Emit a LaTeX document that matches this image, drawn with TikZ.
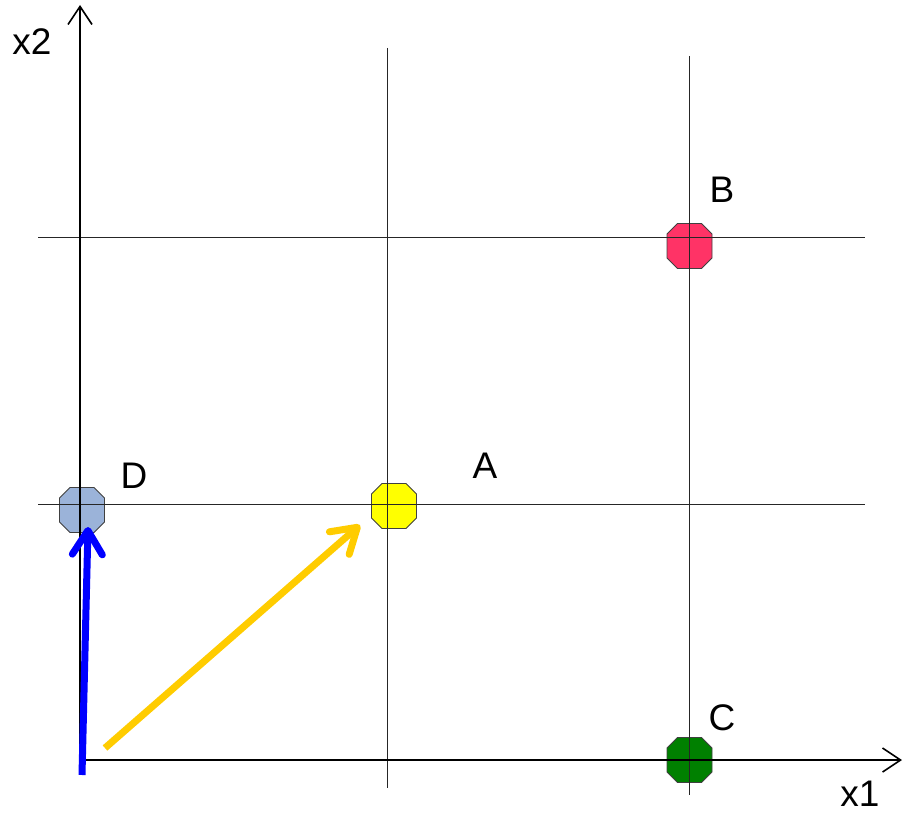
\documentclass[tikz,border=0pt]{standalone}
\usepackage{fontspec}
\setmainfont{Liberation Sans}
\usetikzlibrary{arrows.meta}
\definecolor{dblue}{HTML}{9BB3D9}
\definecolor{bred}{HTML}{FF3366}
\definecolor{cgreen}{HTML}{008000}
\definecolor{ayel}{HTML}{FFFF00}
\definecolor{arrblue}{HTML}{0000FF}
\definecolor{arrgold}{HTML}{FFCC00}
\newcommand{\octpt}[2]{%
  \filldraw[octo,fill=#2,shift={(#1.center)}] (-12,-22.5) -- (12,-22.5) -- (22.5,-12) -- (22.5,12)
    -- (12,22.5) -- (-12,22.5) -- (-22.5,12) -- (-22.5,-12) -- cycle;}
\begin{document}
\begin{tikzpicture}[x=1pt,y=-1pt,
  gridline/.style={draw=black!85,line width=1pt},
  axis/.style={draw=black,line width=2pt,-{Straight Barb[length=18pt,width=24pt,line width=1.6pt]}},
  pt/.style={inner sep=0pt,minimum size=45pt},
  octo/.style={draw=black!75,line width=0.8pt},
  lbl/.style={font=\fontsize{37}{40}\selectfont,inner sep=0pt},
  vec/.style={line width=7pt,-{Straight Barb[length=24pt,width=30pt,round]}}]
\useasboundingbox (0,0) rectangle (903,816);
% points
\node[pt] (D) at (82,510) {};
\node[pt] (A) at (394,506) {};
\node[pt] (B) at (689.5,246) {};
\node[pt] (C) at (689.5,760) {};
\octpt{D}{dblue}
\octpt{A}{ayel}
\octpt{B}{bred}
\octpt{C}{cgreen}
% grid
\draw[gridline] (387,48) -- (387,788);
\draw[gridline] (689,56) -- (689,795);
\draw[gridline] (38,237) -- (865,237);
\draw[gridline] (38,504) -- (865,504);
% axes
\coordinate (x2tip) at (80,5);
\coordinate (x1tip) at (902,760);
\draw[axis] (80,772) -- (x2tip);
\draw[axis] (80,760) -- (x1tip);
% labels
\node[lbl] (lx2) at (32,42) {x2};
\node[lbl] (lx1) at (860,794) {x1};
\node[lbl] (lD) at (134,476) {D};
\node[lbl] (lA) at (485,466) {A};
\node[lbl] (lB) at (722,190) {B};
\node[lbl] (lC) at (722,718) {C};
% vectors
\coordinate (bs) at (82,775);
\coordinate (be) at (88,527);
\coordinate (ys) at (105,748);
\coordinate (ye) at (360,525);
\draw[vec,draw=arrblue] (bs) -- (be);
\draw[vec,draw=arrgold] (ys) -- (ye);
\end{tikzpicture}
\end{document}
